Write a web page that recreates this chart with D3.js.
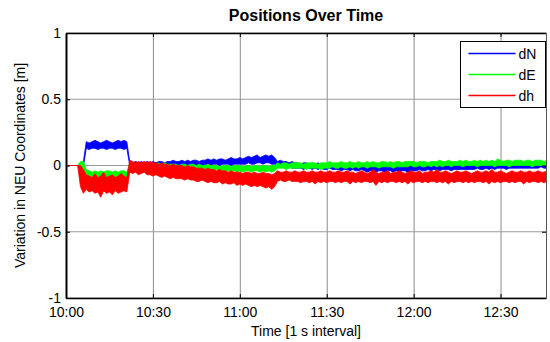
<!DOCTYPE html>
<html>
<head>
<meta charset="utf-8">
<script src="https://cdn.jsdelivr.net/npm/d3@7"></script>
<style>
  body { margin: 0; background: #fff; }
  text { font-family: "Liberation Sans", Arial, sans-serif; fill: #000; }
</style>
</head>
<body>
<div id="chart"></div>
<script>
// one bucket per minute after 10:00, values in cm (low / high edge of the noisy band)
const endMinute = 165.7;

const xTickMinutes = [0, 30, 60, 90, 120, 150];
const xTickLabels = ['10:00', '10:30', '11:00', '11:30', '12:00', '12:30'];
const yTicks = [-1, -0.5, 0, 0.5, 1];
const yTickLabels = ['-1', '-0.5', '0', '0.5', '1'];

const seriesNames = ['dN', 'dE', 'dh'];
const seriesColors = {dN: '#0000ff', dE: '#00ff00', dh: '#ff0000'};

const dNHigh = [
    0, 0, 0, 0, 0, 2, 3, 18, 17, 18,
    19, 18, 17, 18, 19, 18, 17, 18, 19, 18,
    19, 18, 3, 2, 3, 2, 3, 2, 3, 2,
    3, 2, 3, 3, 2, 3, 3, 4, 3, 3,
    4, 3, 4, 3, 4, 4, 3, 4, 4, 5,
    4, 5, 4, 5, 5, 4, 5, 6, 5, 5,
    6, 5, 6, 7, 6, 7, 8, 6, 7, 8,
    7, 8, 6, 3, 4, 3, 3, 2, 3, 2,
    2, 1, 2, 2, 1, 2, 1, 2, 1, 1,
    1, 2, 1, 1, 0, 1, 1, 0, 1, 1,
    0, 1, 0, 0, 1, 0, 0, 1, 0, 0,
    1, 0, 0, 1, 0, 0, 1, 0, 1, 1,
    0, 1, 1, 0, 1, 1, 1, 0, 1, 1,
    1, 1, 2, 1, 1, 1, 2, 1, 1, 2,
    1, 2, 1, 1, 2, 1, 2, 2, 1, 2,
    2, 1, 2, 2, 1, 2, 2, 3, 2, 2,
    2, 2, 3, 2, 2, 2, 2
];
const dNLow = [
    0, 0, 0, 0, 0, -2, -1, 13, 12, 13,
    13, 12, 13, 13, 12, 13, 13, 12, 13, 13,
    12, 13, 0, 0, -1, 0, 0, 0, -1, 0,
    0, 0, 0, -1, 0, 0, 0, 0, 0, 0,
    0, 0, 0, 0, 0, 0, 0, 0, 1, 0,
    0, 1, 1, 0, 1, 1, 1, 0, 1, 1,
    1, 1, 1, 2, 1, 1, 2, 2, 1, 2,
    2, 1, 1, -1, -1, -1, -2, -1, -2, -2,
    -2, -2, -3, -2, -2, -3, -2, -3, -2, -3,
    -3, -2, -3, -3, -3, -4, -3, -3, -4, -3,
    -4, -4, -3, -4, -5, -4, -4, -5, -4, -4,
    -5, -4, -4, -5, -4, -5, -4, -4, -5, -4,
    -4, -4, -3, -4, -4, -3, -4, -3, -3, -4,
    -3, -3, -3, -4, -3, -3, -3, -3, -3, -3,
    -3, -3, -2, -3, -3, -2, -3, -2, -3, -2,
    -2, -2, -3, -2, -2, -2, -2, -2, -2, -2,
    -2, -2, -2, -2, -1, -2, -2
];

const dEHigh = [
    0, 0, 0, 0, 0, 3, 3, -3, -4, -5,
    -4, -5, -4, -5, -4, -4, -5, -4, -5, -4,
    -4, -5, 2, 2, 1, 2, 2, 1, 2, 2,
    2, 1, 2, 1, 2, 1, 1, 1, 1, 0,
    1, 1, 0, 1, 1, 0, 1, 0, 0, 1,
    0, 0, 0, -1, 0, 0, 0, -1, 0, 0,
    0, -1, 0, 0, -1, 0, 0, -1, 0, 0,
    -1, 0, 0, 2, 1, 2, 2, 1, 2, 2,
    2, 2, 1, 2, 2, 2, 2, 1, 2, 2,
    2, 3, 2, 2, 2, 3, 2, 2, 3, 2,
    2, 3, 2, 2, 3, 2, 3, 2, 2, 3,
    3, 2, 3, 2, 3, 3, 2, 3, 3, 3,
    3, 2, 3, 3, 3, 2, 3, 3, 3, 4,
    3, 3, 4, 3, 3, 3, 4, 3, 4, 3,
    3, 4, 3, 4, 3, 4, 3, 4, 3, 5,
    4, 3, 4, 4, 3, 4, 4, 4, 3, 4,
    4, 3, 4, 4, 4, 3, 4
];
const dELow = [
    0, 0, 0, 0, 0, -1, -3, -9, -10, -11,
    -10, -11, -10, -11, -10, -11, -10, -11, -10, -11,
    -10, -11, -2, -2, -3, -2, -2, -3, -2, -2,
    -2, -3, -2, -3, -2, -3, -3, -3, -3, -3,
    -3, -3, -4, -3, -3, -4, -3, -4, -4, -3,
    -4, -4, -3, -4, -4, -5, -4, -4, -4, -5,
    -4, -5, -4, -4, -5, -4, -4, -5, -4, -5,
    -4, -5, -4, -2, -2, -2, -3, -2, -2, -2,
    -2, -2, -2, -3, -2, -2, -2, -2, -3, -2,
    -2, -2, -1, -2, -2, -1, -2, -2, -1, -2,
    -1, -2, -1, -1, -2, -1, -1, -1, -2, -1,
    -1, -1, -1, -2, -1, -1, -1, -1, -1, 0,
    -1, -1, 0, -1, -1, 0, -1, 0, -1, 0,
    -1, 0, 0, -1, 0, 0, 0, -1, 0, 0,
    0, 0, -1, 0, 0, 0, 0, 0, -1, 0,
    0, 0, 0, -1, 0, 0, 0, 0, 0, 0,
    0, -1, 0, 0, 0, 0, 0
];

const dhHigh = [
    0, 0, 0, 0, 0, 0, -3, -7, -8, -9,
    -6, -9, -8, -5, -9, -8, -7, -9, -8, -6,
    -8, -9, 4, 3, 2, 3, 2, 3, 2, 3,
    2, 2, 1, 2, 1, 1, 0, 1, 0, 0,
    0, -1, 0, -1, -1, -2, -2, -2, -3, -2,
    -3, -3, -4, -3, -4, -4, -5, -4, -5, -5,
    -5, -6, -5, -5, -6, -5, -6, -6, -5, -6,
    -6, -7, -6, -4, -5, -5, -4, -5, -5, -4,
    -5, -5, -4, -5, -5, -4, -5, -5, -4, -5,
    -5, -4, -5, -5, -4, -5, -5, -4, -5, -5,
    -6, -5, -4, -5, -6, -5, -3, -5, -6, -5,
    -5, -4, -6, -5, -5, -4, -5, -6, -5, -4,
    -5, -5, -4, -6, -5, -5, -4, -5, -3, -5,
    -5, -4, -5, -6, -5, -4, -5, -5, -4, -5,
    -6, -5, -4, -5, -5, -4, -5, -3, -5, -5,
    -4, -5, -6, -5, -4, -5, -5, -4, -5, -5,
    -4, -5, -5, -4, -5, -5, -4
];
const dhLow = [
    0, 0, 0, 0, 0, -16, -21, -18, -20, -19,
    -21, -20, -24, -19, -21, -20, -22, -19, -21, -20,
    -19, -20, -5, -6, -5, -7, -6, -5, -7, -7,
    -8, -7, -8, -9, -8, -9, -10, -9, -10, -10,
    -10, -11, -10, -11, -11, -12, -12, -11, -12, -13,
    -12, -13, -13, -12, -14, -13, -14, -14, -13, -15,
    -14, -15, -14, -15, -16, -15, -16, -15, -16, -17,
    -16, -18, -16, -12, -11, -12, -12, -11, -12, -12,
    -12, -13, -12, -12, -13, -12, -14, -12, -13, -12,
    -13, -12, -12, -13, -12, -13, -12, -12, -14, -12,
    -13, -12, -13, -12, -12, -13, -12, -15, -12, -13,
    -12, -13, -12, -12, -13, -12, -13, -12, -14, -12,
    -13, -12, -12, -13, -12, -13, -12, -12, -13, -12,
    -13, -12, -14, -12, -13, -12, -12, -13, -12, -13,
    -12, -13, -12, -12, -13, -12, -14, -12, -13, -12,
    -13, -12, -12, -13, -12, -13, -12, -12, -14, -12,
    -13, -12, -12, -13, -12, -13, -12
];

const seriesHigh = {dN: dNHigh, dE: dEHigh, dh: dhHigh};
const seriesLow = {dN: dNLow, dE: dELow, dh: dhLow};

const width = 550, height = 342;
const margin = {top: 33, right: 4, bottom: 44, left: 66};
const plotW = width - margin.left - margin.right;
const plotH = height - margin.top - margin.bottom;

const svg = d3.select('#chart').append('svg')
    .attr('width', width)
    .attr('height', height);

const g = svg.append('g')
    .attr('transform', `translate(${margin.left}, ${margin.top})`);

const xScale = d3.scaleLinear().domain([0, endMinute]).range([0, plotW]);
const yScale = d3.scaleLinear().domain([-1, 1]).range([plotH, 0]);

g.append('defs').append('clipPath')
    .attr('id', 'plot-clip')
    .append('rect')
    .attr('width', plotW)
    .attr('height', plotH);

// grid
g.append('g').selectAll('line')
    .data(xTickMinutes)
    .join('line')
    .attr('x1', d => xScale(d) + 0.5)
    .attr('x2', d => xScale(d) + 0.5)
    .attr('y1', 0)
    .attr('y2', plotH)
    .attr('stroke', '#8c8c8c')
    .attr('stroke-width', 1);

g.append('g').selectAll('line')
    .data(yTicks)
    .join('line')
    .attr('x1', 0)
    .attr('x2', plotW)
    .attr('y1', d => yScale(d))
    .attr('y2', d => yScale(d))
    .attr('stroke', '#9a9a9a')
    .attr('stroke-width', 1);

// noisy bands, drawn as min/max envelope per minute
const area = d3.area()
    .x(d => xScale(d.minute))
    .y0(d => yScale(d.low / 100))
    .y1(d => yScale(d.high / 100));

const bands = g.append('g').attr('clip-path', 'url(#plot-clip)');

seriesNames.forEach(function(name) {
    let lows = seriesLow[name];
    let data = seriesHigh[name].map((h, i) => ({ minute: i, high: h, low: lows[i] }));
    bands.append('path')
        .datum(data)
        .attr('d', area)
        .attr('fill', seriesColors[name])
        .attr('stroke', seriesColors[name])
        .attr('stroke-width', 0.8);
});

// axes, MATLAB style ticks pointing inward
const xAxis = d3.axisBottom(xScale)
    .tickValues(xTickMinutes)
    .tickFormat((d, i) => xTickLabels[i])
    .tickSizeInner(-4)
    .tickSizeOuter(0)
    .tickPadding(9);

const yAxis = d3.axisLeft(yScale)
    .tickValues(yTicks)
    .tickFormat((d, i) => yTickLabels[i])
    .tickSizeInner(-4)
    .tickSizeOuter(0)
    .tickPadding(5);

g.append('g')
    .attr('transform', `translate(0, ${plotH})`)
    .call(xAxis)
    .call(a => a.select('.domain').attr('stroke-width', 1.5))
    .call(a => a.selectAll('text').style('font-size', '14px').attr('fill', '#000'));

g.append('g')
    .call(yAxis)
    .call(a => a.select('.domain').attr('stroke-width', 2))
    .call(a => a.selectAll('text').style('font-size', '14px').attr('fill', '#000'));

g.append('g')
    .call(d3.axisTop(xScale).tickValues(xTickMinutes).tickFormat('').tickSizeInner(-4).tickSizeOuter(0))
    .call(a => a.select('.domain').attr('stroke-width', 1.5));

g.append('g')
    .attr('transform', `translate(${plotW}, 0)`)
    .call(d3.axisRight(yScale).tickValues(yTicks).tickFormat('').tickSizeInner(-4).tickSizeOuter(0))
    .call(a => a.select('.domain').attr('stroke', '#555'));

// labels
svg.append('text')
    .attr('x', margin.left + plotW / 2)
    .attr('y', 21)
    .attr('text-anchor', 'middle')
    .style('font-size', '16px')
    .style('font-weight', 'bold')
    .text('Positions Over Time');

svg.append('text')
    .attr('x', margin.left + plotW / 2)
    .attr('y', 336)
    .attr('text-anchor', 'middle')
    .style('font-size', '14px')
    .text('Time [1 s interval]');

svg.append('text')
    .attr('transform', 'rotate(-90)')
    .attr('x', -(margin.top + plotH / 2))
    .attr('y', 25)
    .attr('text-anchor', 'middle')
    .style('font-size', '14px')
    .text('Variation in NEU Coordinates [m]');

// legend
const legend = svg.append('g')
    .attr('transform', 'translate(460.5, 41.5)');

legend.append('rect')
    .attr('width', 85)
    .attr('height', 66)
    .attr('fill', '#fff')
    .attr('stroke', '#000')
    .attr('stroke-width', 1);

seriesNames.forEach(function(name, i) {
    let rowY = 12 + i * 21;
    legend.append('line')
        .attr('x1', 8)
        .attr('x2', 55)
        .attr('y1', rowY)
        .attr('y2', rowY)
        .style('stroke', seriesColors[name])
        .style('stroke-width', 1.5);
    legend.append('text')
        .attr('x', 58)
        .attr('y', rowY + 5)
        .style('font-size', '14px')
        .text(name);
});
</script>
</body>
</html>
